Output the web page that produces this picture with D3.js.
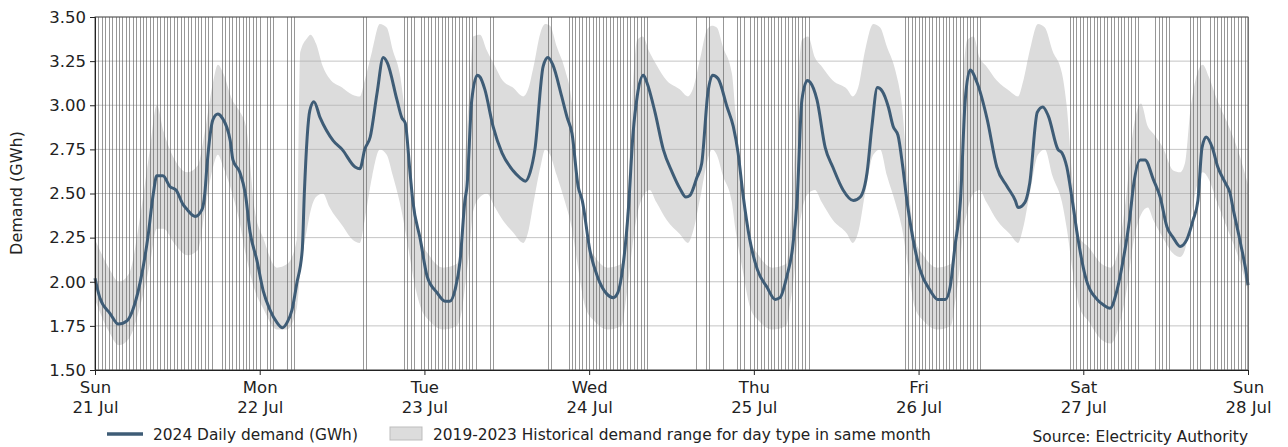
<!DOCTYPE html>
<html><head><meta charset="utf-8">
<script src="https://cdn.jsdelivr.net/npm/d3@7"></script>
<style>body{margin:0;background:#fff;} svg{display:block;font-family:"DejaVu Sans",sans-serif;}</style>
</head><body><svg id="c" width="1288" height="447"></svg>
<script>
// ---------- data ----------
const dayNames = ["Sun","Mon","Tue","Wed","Thu","Fri","Sat","Sun"];
const dayDates = ["21 Jul","22 Jul","23 Jul","24 Jul","25 Jul","26 Jul","27 Jul","28 Jul"];
const dayTickHours = [0,24,48,72,96,120,144,168];
const yTicks = [1.50,1.75,2.00,2.25,2.50,2.75,3.00,3.25,3.50];

// 2024 demand: hours since Sun 21 Jul 00:00, GWh
const demandHours = [0.0,0.7,2.2,3.4,4.7,5.5,7.0,7.7,8.5,9.0,9.9,10.9,11.8,12.8,13.4,14.6,15.6,16.0,16.3,17.2,17.9,18.5,19.7,20.1,21.1,21.9,22.6,23.6,
 24.5,25.5,26.5,27.3,28.0,28.7,29.4,30.2,30.5,31.3,31.9,32.8,34.7,36.0,37.9,38.6,39.3,40.1,41.1,42.0,42.6,44.0,44.7,45.2,45.9,46.3,47.4,
 48.4,49.8,51.0,51.7,52.5,53.2,53.9,54.2,54.9,55.7,56.1,56.8,58.0,59.3,60.9,61.9,62.7,63.4,64.1,65.3,66.0,66.7,68.0,68.8,69.5,70.4,71.0,
 72.1,73.2,74.6,75.5,76.2,76.9,77.7,78.4,79.0,79.9,80.4,81.6,82.8,84.1,85.2,86.1,86.7,87.7,88.4,89.3,90.0,90.8,92.1,93.0,93.7,94.4,95.4,
 96.5,97.9,99.1,99.8,100.8,101.6,102.3,103.0,103.8,104.2,105.2,106.4,107.5,109.0,110.5,111.5,112.5,113.2,114.0,114.7,115.6,116.3,117.0,117.7,118.3,119.2,
 120.2,121.7,122.8,123.9,124.6,125.3,126.1,126.8,127.5,128.5,130.0,131.4,132.9,134.1,134.5,135.5,136.2,137.3,138.1,138.9,140.3,140.9,141.6,142.4,143.2,
 144.3,146.0,146.9,147.9,148.9,149.8,150.8,151.3,152.3,153.0,154.2,155.2,156.2,157.1,158.1,159.1,160.0,160.7,161.3,161.9,162.8,163.6,164.7,165.4,165.8,166.9,167.9,168.0];
const demandValues = [2.02,1.91,1.82,1.76,1.78,1.84,2.08,2.25,2.50,2.60,2.60,2.54,2.52,2.44,2.41,2.37,2.41,2.50,2.65,2.92,2.95,2.93,2.80,2.69,2.62,2.50,2.28,2.12,
 1.95,1.84,1.77,1.74,1.77,1.84,1.99,2.18,2.50,2.97,3.02,2.93,2.80,2.75,2.65,2.64,2.75,2.82,3.07,3.27,3.24,3.03,2.93,2.90,2.62,2.46,2.24,
 2.03,1.94,1.89,1.89,1.96,2.12,2.46,2.54,3.03,3.17,3.16,3.09,2.88,2.73,2.63,2.59,2.57,2.62,2.75,3.22,3.27,3.23,3.05,2.93,2.84,2.54,2.46,
 2.18,2.03,1.93,1.91,1.94,2.08,2.40,2.84,3.05,3.17,3.13,2.96,2.75,2.62,2.53,2.48,2.49,2.59,2.67,3.07,3.17,3.15,2.99,2.88,2.73,2.50,2.24,
 2.07,1.97,1.90,1.91,2.03,2.18,2.46,3.03,3.14,3.13,3.03,2.76,2.65,2.52,2.46,2.48,2.62,2.88,3.10,3.08,2.99,2.88,2.83,2.65,2.46,2.24,
 2.07,1.95,1.90,1.90,1.97,2.20,2.46,3.03,3.20,3.13,2.92,2.65,2.54,2.46,2.42,2.45,2.56,2.96,2.99,2.94,2.75,2.73,2.65,2.46,2.25,
 2.03,1.90,1.87,1.85,1.95,2.12,2.37,2.54,2.69,2.69,2.58,2.48,2.31,2.25,2.20,2.24,2.35,2.46,2.76,2.82,2.76,2.65,2.56,2.50,2.42,2.22,2.01,1.98];

// 2019-2023 historical range
const bandHours = [0,2,3.5,5,6.5,8,9,10,11.5,13.5,15,16,17.2,17.9,18.7,20,21,22,23.3,
 24.5,26.5,28,29.4,29.9,30.9,31.4,32.2,33.2,34.2,36,37.5,38.6,39.3,40.4,41.5,42.5,43.4,44.4,45.4,46.5,47.5,
 48.7,50.7,52.7,53.5,54.0,54.6,55.1,56.1,57.1,58.3,59.4,60.9,62.4,63.1,63.9,64.9,65.6,66.3,67.3,68.5,69.5,70.3,71.5,
 72.7,74.7,76.7,77.3,77.7,78.3,79.0,79.8,80.8,81.8,83.3,85.2,86.4,87.1,88.2,89.2,89.9,90.6,91.5,92.8,93.3,94.3,95.5,
 96.7,98.7,100.7,101.3,101.9,102.4,103.0,103.9,104.9,105.9,107.5,109.6,110.4,111.2,112.2,113.4,114.4,115.4,116.6,117.6,118.5,119.5,
 120.7,122.7,124.7,125.3,125.9,126.4,127.1,128.0,128.9,129.9,131.4,133.3,134.5,135.2,136.2,137.4,138.4,139.5,140.9,141.6,142.5,143.5,
 144.7,146.7,148.0,149.2,150.3,151.2,152.4,153.4,154.2,155.6,157.1,158.1,158.8,159.6,160.6,161.4,162.3,163.5,165.0,166.5,168.0];
const bandHigh = [2.24,2.08,2.00,2.05,2.35,2.75,3.00,2.85,2.70,2.62,2.66,2.85,3.13,3.23,3.18,3.03,2.97,2.88,2.40,
 2.25,2.08,2.10,2.24,3.30,3.38,3.40,3.35,3.22,3.15,3.10,3.06,3.05,3.14,3.31,3.46,3.44,3.31,3.18,2.88,2.46,2.24,
 2.15,2.08,2.10,2.35,2.75,3.10,3.39,3.40,3.31,3.22,3.14,3.10,3.05,3.09,3.22,3.41,3.46,3.45,3.33,3.20,3.01,2.60,2.24,
 2.15,2.08,2.10,2.30,2.55,3.05,3.37,3.39,3.30,3.23,3.14,3.09,3.05,3.09,3.27,3.43,3.45,3.44,3.33,3.18,2.97,2.55,2.24,
 2.15,2.08,2.10,2.30,2.70,3.10,3.37,3.39,3.27,3.22,3.14,3.09,3.05,3.10,3.31,3.46,3.44,3.33,3.20,2.99,2.55,2.24,
 2.15,2.08,2.10,2.30,2.70,3.10,3.37,3.39,3.27,3.22,3.14,3.08,3.05,3.13,3.31,3.46,3.44,3.31,3.18,2.99,2.55,2.25,
 2.20,2.10,2.08,2.20,2.50,2.84,3.01,2.88,2.84,2.76,2.63,2.62,2.67,2.97,3.18,3.23,3.16,3.03,2.90,2.75,2.55];
const bandLow = [1.90,1.72,1.64,1.68,1.85,2.10,2.30,2.30,2.22,2.15,2.18,2.40,2.65,2.72,2.65,2.50,2.35,2.15,1.95,
 1.85,1.73,1.73,1.85,2.05,2.30,2.40,2.48,2.50,2.42,2.32,2.24,2.22,2.35,2.60,2.75,2.72,2.60,2.45,2.25,2.00,1.85,
 1.78,1.73,1.75,1.85,2.00,2.20,2.40,2.48,2.50,2.42,2.35,2.28,2.22,2.28,2.45,2.65,2.75,2.72,2.60,2.45,2.30,2.10,1.85,
 1.78,1.73,1.75,1.88,2.00,2.20,2.38,2.48,2.52,2.45,2.35,2.27,2.22,2.28,2.48,2.68,2.75,2.72,2.60,2.45,2.30,2.08,1.85,
 1.78,1.73,1.75,1.88,2.05,2.25,2.40,2.50,2.52,2.45,2.35,2.27,2.22,2.28,2.50,2.72,2.75,2.60,2.45,2.30,2.08,1.85,
 1.78,1.73,1.75,1.88,2.05,2.25,2.40,2.50,2.52,2.45,2.35,2.27,2.22,2.30,2.50,2.72,2.75,2.60,2.45,2.30,2.05,1.85,
 1.78,1.67,1.65,1.75,1.95,2.20,2.38,2.42,2.35,2.25,2.16,2.14,2.18,2.35,2.55,2.62,2.58,2.45,2.30,2.15,1.95];

// half-hour trading periods marked with vertical lines (index from Sun 21 Jul 00:00)
const markedPeriods = [0,1,2,3,4,5,6,7,8,9,10,11,12,13,14,15,16,17,18,19,20,21,22,23,24,25,26,27,28,29,30,31,32,33,34,
 37,38,39,40,41,42,43,44,45,46,47,48,50,51,52,56,57,58,78,79,
 90,91,92,93,95,96,97,98,99,100,101,102,103,104,105,106,107,108,109,110,111,115,116,132,133,
 138,139,140,141,142,143,144,145,146,147,148,149,150,151,152,153,154,155,156,157,158,159,160,161,
 175,178,179,183,187,188,189,191,192,193,194,195,196,197,198,199,200,201,202,203,204,205,206,207,208,
 236,237,238,239,240,241,242,243,244,245,246,247,248,249,250,251,252,253,254,255,256,257,258,
 284,285,286,287,288,289,290,291,292,293,294,295,296,297,298,299,300,301,302,303,304,
 309,310,311,312,313,319,320,321,322,325,326,327,328,329,330,331,332,333,334,335,336];

const legendLine = "2024 Daily demand (GWh)";
const legendBand = "2019-2023 Historical demand range for day type in same month";
const sourceText = "Source: Electricity Authority";
const yLabel = "Demand (GWh)";

// ---------- layout ----------
const m = {left: 95, right: 1248, top: 17, bottom: 370};
const svg = d3.select("#c");
const x = d3.scaleLinear().domain([0,168]).range([m.left, m.right]);
const y = d3.scaleLinear().domain([1.5,3.5]).range([m.bottom, m.top]);

const band = bandHours.map((h,i)=>({h, lo: bandLow[i], hi: bandHigh[i]}));
const demand = demandHours.map((h,i)=>({h, v: demandValues[i]}));

svg.append("path").datum(band)
  .attr("fill","#dcdcdc")
  .attr("d", d3.area().x(d=>x(d.h)).y0(d=>y(d.lo)).y1(d=>y(d.hi)).curve(d3.curveMonotoneX));

// horizontal grid
svg.append("g").selectAll("line").data(yTicks).join("line")
  .attr("x1", m.left).attr("x2", m.right)
  .attr("y1", d=>y(d)).attr("y2", d=>y(d))
  .attr("stroke","#b0b0b0").attr("stroke-opacity",0.75).attr("stroke-width",1);

// vertical marked periods
svg.append("g").selectAll("line").data(markedPeriods).join("line")
  .attr("x1", d=>Math.round(x(d/2))+0.5).attr("x2", d=>Math.round(x(d/2))+0.5)
  .attr("y1", m.top).attr("y2", m.bottom)
  .attr("stroke","#666").attr("stroke-opacity",0.68).attr("stroke-width",1);

// demand line
svg.append("path").datum(demand)
  .attr("fill","none").attr("stroke","#3e5c76").attr("stroke-width",3)
  .attr("stroke-linejoin","round")
  .attr("d", d3.line().x(d=>x(d.h)).y(d=>y(d.v)).curve(d3.curveMonotoneX));

// frame
svg.append("rect").attr("x", m.left).attr("y", m.top)
  .attr("width", m.right-m.left).attr("height", m.bottom-m.top)
  .attr("fill","none").attr("stroke","#555").attr("stroke-width",1);

// axes
const yAxis = d3.axisLeft(y).tickValues(yTicks).tickFormat(d3.format(".2f")).tickSize(5).tickPadding(4);
const gy = svg.append("g").attr("transform",`translate(${m.left},0)`).call(yAxis);
gy.selectAll("text").attr("font-size","16.5px").attr("fill","#222").attr("font-family","DejaVu Sans");
gy.select(".domain").attr("stroke","#222");
gy.selectAll(".tick line").attr("stroke","#222");

const xAxis = d3.axisBottom(x).tickValues(dayTickHours).tickFormat("").tickSize(5);
const gx = svg.append("g").attr("transform",`translate(0,${m.bottom})`).call(xAxis);
gx.select(".domain").attr("stroke","#222");
gx.selectAll(".tick line").attr("stroke","#222");
gx.selectAll(".tick").each(function(d,i){
  const t = d3.select(this).append("text").attr("fill","#222").attr("font-size","16.5px")
    .attr("font-family","DejaVu Sans").attr("text-anchor","middle");
  t.append("tspan").attr("x",0).attr("y",23).text(dayNames[i]);
  t.append("tspan").attr("x",0).attr("y",43).text(dayDates[i]);
});

svg.append("text").attr("transform","translate(22,193) rotate(-90)")
  .attr("text-anchor","middle").attr("font-size","16px").attr("fill","#222").text(yLabel);

// legend
svg.append("line").attr("x1",107).attr("x2",143).attr("y1",434).attr("y2",434)
  .attr("stroke","#3e5c76").attr("stroke-width",3.5);
svg.append("text").attr("x",153).attr("y",440).attr("font-size","15.4px").attr("fill","#222").text(legendLine);
svg.append("rect").attr("x",390).attr("y",427).attr("width",32).attr("height",13)
  .attr("fill","#dcdcdc").attr("stroke","#bdbdbd");
svg.append("text").attr("x",433).attr("y",440).attr("font-size","15.4px").attr("fill","#222").text(legendBand);
svg.append("text").attr("x",1248).attr("y",442).attr("text-anchor","end").attr("font-size","15.4px").attr("fill","#222").text(sourceText);
</script></body></html>
